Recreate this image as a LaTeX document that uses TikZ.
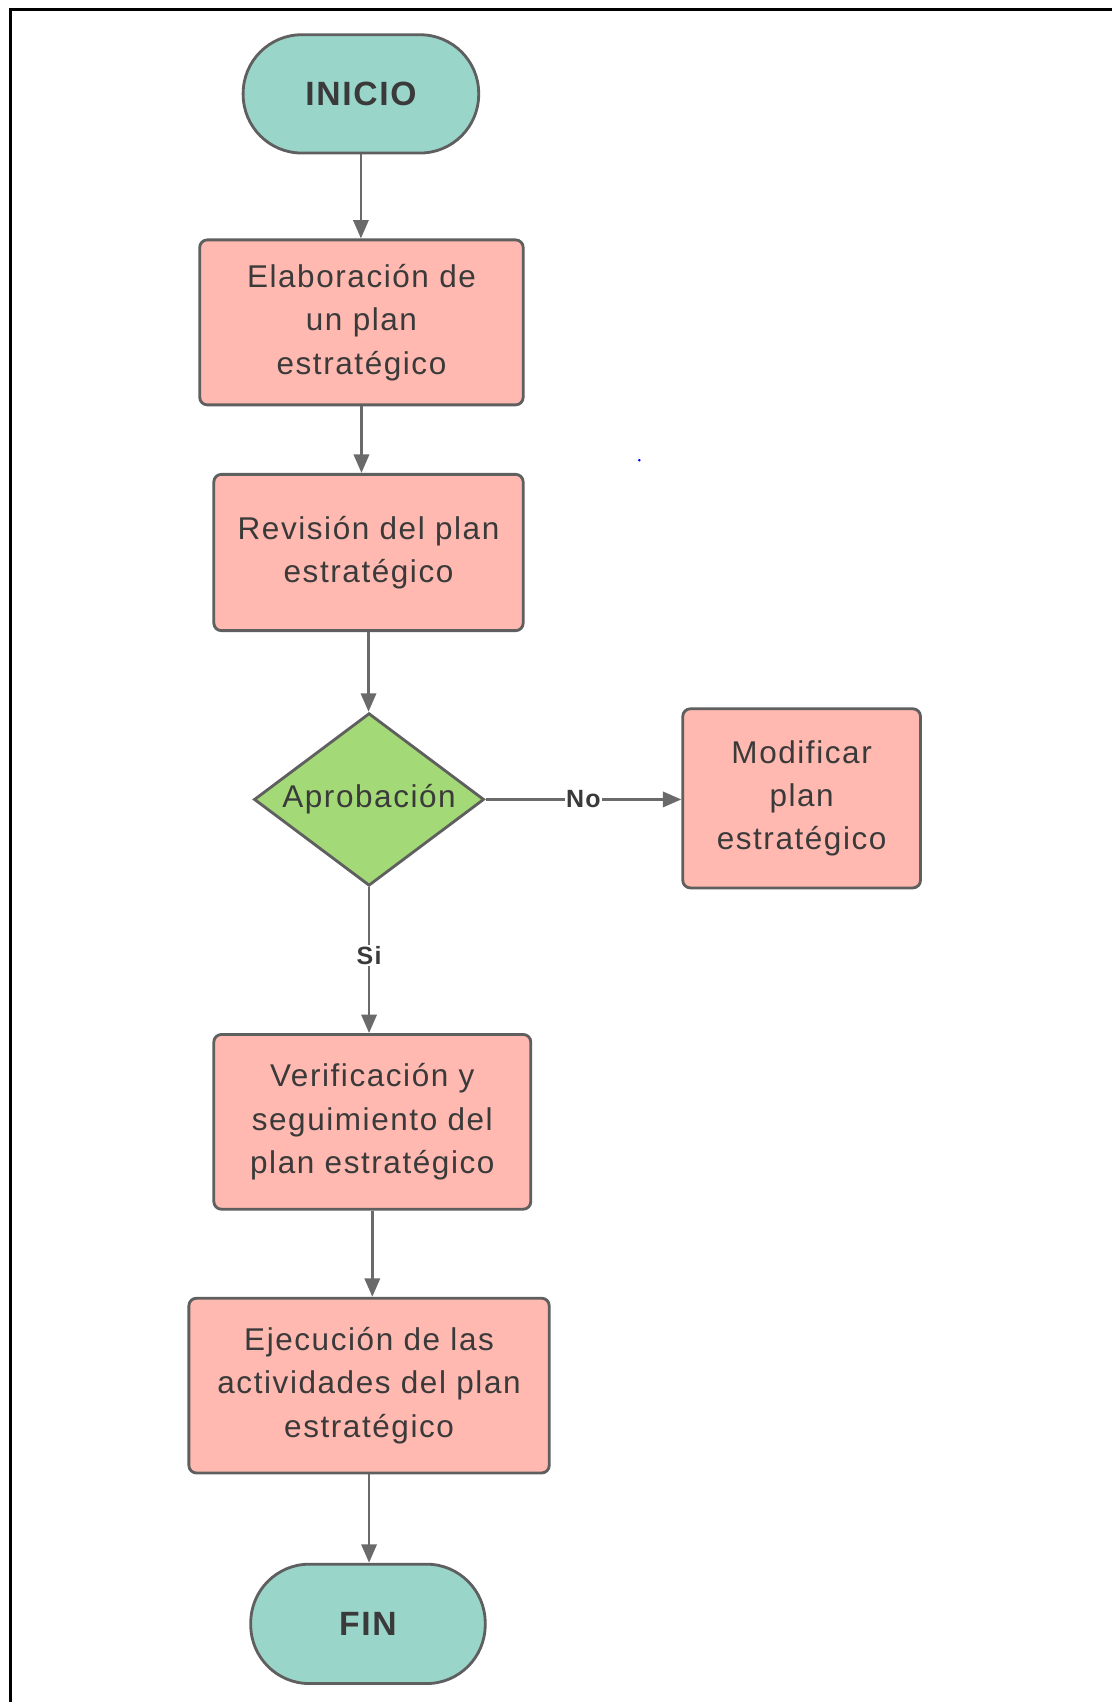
\documentclass[tikz,border=0pt]{standalone}
\usepackage{fontspec}
\setmainfont{Liberation Sans}
\newfontfamily\widefont[LetterSpace=5]{Liberation Sans}
\usetikzlibrary{shapes.geometric,arrows.meta}
\definecolor{boxfill}{HTML}{FFB9B0}
\definecolor{termfill}{HTML}{9AD5CA}
\definecolor{decfill}{HTML}{A3D977}
\definecolor{edge}{HTML}{5F5F5F}
\definecolor{txt}{HTML}{3A3A3A}
\definecolor{conn}{HTML}{6A6A6A}
\tikzset{
  procbox/.style={draw=edge, line width=2.6pt, fill=boxfill, rounded corners=7pt,
    align=center, text=txt, font=\widefont\fontsize{29}{40}\selectfont, inner sep=0pt},
  termbox/.style={draw=edge, line width=2.6pt, fill=termfill, rounded corners=54pt,
    align=center, text=txt, font=\widefont\fontsize{31}{36}\selectfont\bfseries, inner sep=0pt},
  decbox/.style={draw=edge, line width=2.6pt, fill=decfill, diamond, aspect=1.35, inner sep=0pt,
    text=txt, font=\widefont\fontsize{29}{34}\selectfont},
  flow/.style={draw=conn, line width=2.6pt, -{Triangle[length=17pt,width=14pt]}},
  lbl/.style={fill=white, text=txt, font=\widefont\fontsize{23}{26}\selectfont\bfseries, inner sep=1pt}
}
\begin{document}
\begin{tikzpicture}[x=1pt,y=-1pt]
\useasboundingbox (0,0) rectangle (1024,1568);
\fill[white] (0,0) rectangle (1024,1568);
% frame
\draw[line width=3pt, black] (9.5,1568) -- (9.5,8.5) -- (1024,8.5);

\node[termbox, minimum width=217pt, minimum height=109pt] (inicio) at (332.5,86.5) {INICIO};
\node[procbox, minimum width=298pt, minimum height=152pt] (elab) at (333,297) {Elaboración de\\un plan\\estratégico};
\node[procbox, minimum width=285pt, minimum height=144pt] (rev) at (339.5,509) {Revisión del plan\\estratégico};
\node[decbox, minimum width=212pt, minimum height=159pt] (apr) at (340,736.5) {Aprobación};
\node[procbox, minimum width=219pt, minimum height=165pt] (mod) at (738.5,735.5) {Modificar\\plan\\estratégico};
\node[procbox, minimum width=292pt, minimum height=161pt] (ver) at (343,1033.5) {Verificación y\\seguimiento del\\plan estratégico};
\node[procbox, minimum width=332pt, minimum height=161pt] (eje) at (340,1276.5) {Ejecución de las\\actividades del plan\\estratégico};
\node[termbox, minimum width=216pt, minimum height=110pt] (fin) at (339,1496) {FIN};

\draw[flow] (inicio.south) -- (inicio.south |- elab.north);
\draw[flow] (elab.south) -- (elab.south |- rev.north);
\draw[flow] (rev.south) -- (rev.south |- apr.north);
\draw[flow] (apr.east) -- node[lbl, pos=0.5] {No} (apr.east -| mod.west);
\draw[flow] (apr.south) -- node[lbl, pos=0.47] {Si} (apr.south |- ver.north);
\draw[flow] (ver.south) -- (ver.south |- eje.north);
\draw[flow] (eje.south) -- (eje.south |- fin.north);

% stray dot
\fill[blue] (589,424) circle (1.3pt);
\end{tikzpicture}
\end{document}
